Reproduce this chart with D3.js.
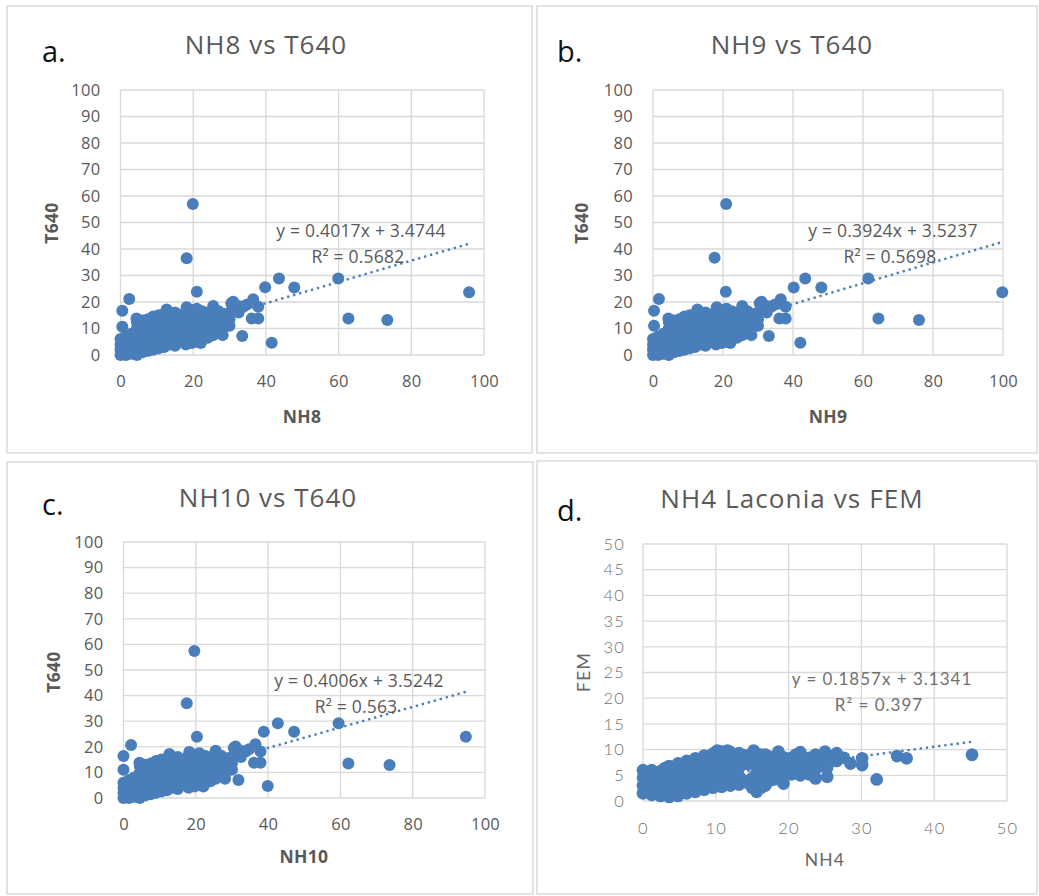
<!DOCTYPE html>
<html>
<head>
<meta charset="utf-8">
<script src="https://cdn.jsdelivr.net/npm/d3@7"></script>
<style>
  body { margin: 0; background: #fff; }
  svg { display: block; }
</style>
</head>
<body>
<svg id="fig" width="1039" height="896"></svg>
<script>
"use strict";

// dense T640 cluster (b and c show the same cloud)
var t640Core = [
  [0,0],[0,2],[0,4],[0,6],
  [0.8,1],[0.8,3.5],[0.8,5.5],
  [1.5,0],[1.5,2.5],[1.5,5],[1.5,7],
  [3,0.5],[3,3],[3,5.5],[3,8],
  [4.5,0],[4.5,2.5],[4.5,5],[4.5,7.5],[4.5,10],[4.5,12.5],[4.4,13.8],
  [6,1],[6,3.5],[6,6],[6,8.5],[6,11],[6,13],
  [7.5,1.5],[7.5,4],[7.5,6.5],[7.5,9],[7.5,11.5],[7.5,13.5],
  [9,2],[9,4.5],[9,7],[9,9.5],[9,12],[9,14.5],
  [10.5,2.5],[10.5,5],[10.5,7.5],[10.5,10],[10.5,12.5],[10.5,15],
  [12,3],[12,5.5],[12,8],[12,10.5],[12,13],[12,15.5],[12.7,17.2],
  [13.5,4],[13.5,6.5],[13.5,9],[13.5,11.5],[13.5,14],[13.5,16],
  [15,3.5],[15,6],[15,8.5],[15,11],[15,13.5],[15,16],
  [16.5,5],[16.5,7.5],[16.5,10],[16.5,12.5],[16.5,15],
  [18,4],[18,6.5],[18,9],[18,11.5],[18,14],[18,16.5],[18.2,18],
  [19.6,4.5],[19.5,7],[19.5,9.5],[19.5,12],[19.5,14.5],[19.5,17],
  [21,5],[21,7.5],[21,10],[21,12.5],[21,15],[21,17.5],
  [22.1,4.5],[22.5,7],[22.5,9.5],[22.5,12],[22.5,14.5],[22.5,16.5],
  [24,6.5],[24,9],[24,11.5],[24,14],[24,16],
  [25.5,7.5],[25.5,10],[25.5,12.5],[25.5,15],[25.5,18.5],
  [27,9],[27,11.5],[27,14],[27,16.5],
  [28.1,7.5],[28.5,10.5],[28.5,13],[28.5,15.5],
  [30,11],[30,13.5],[30,16],[30.5,19.5],
  [31,20.1],[32.5,16],[32.5,18.5],[33.8,18.2],
  [34.7,19],[36.5,21],[36.1,13.8],[37.9,13.8],[37.9,18.2]
];

// scattered points of each panel
var nh8Outliers = [
  [0.5,10.7],[0.5,16.7],[2.4,21.1],[18.2,36.5],[19.9,57],[21,23.9],
  [33.5,7.2],[39.8,25.6],[43.6,28.9],[47.8,25.5],[41.6,4.6],
  [59.9,28.9],[62.7,13.8],[73.4,13.2],[95.9,23.7]
];
var nh9Outliers = [
  [0.3,11],[0.3,16.7],[1.7,21.1],[17.6,36.7],[20.9,57],[20.8,23.9],
  [33.1,7.2],[40.2,25.5],[43.5,28.9],[48.1,25.5],[42.1,4.6],
  [61.5,28.9],[64.4,13.8],[76,13.2],[99.8,23.7]
];
var nh10Outliers = [
  [0,11],[0,16.4],[2.1,20.7],[17.5,37],[19.6,57.4],[20.3,23.9],
  [31.8,7],[38.8,25.9],[42.7,29.2],[47.2,25.9],[39.9,4.7],
  [59.5,29.2],[62.2,13.5],[73.6,12.9],[94.7,23.9]
];

// NH4 Laconia vs FEM
var femPoints = [
  [0,1.5],[0,3],[0,4.5],[0,6],[0.6,2.2],[0.6,3.8],[0.6,5.3],
  [1.2,1.2],[1.2,2.8],[1.2,4.4],[1.2,6],[1.8,2],[1.8,3.6],[1.8,5.2],
  [2.4,1],[2.4,2.6],[2.4,4.2],[2.4,5.8],[3,1.8],[3,3.4],[3,5],[3,6.4],
  [3.6,0.8],[3.6,2.4],[3.6,4],[3.6,5.6],[3.6,6.8],[4.2,1.8],[4.2,3.4],[4.2,5],[4.2,6.5],
  [4.8,1],[4.8,2.6],[4.8,4.2],[4.8,5.8],[4.8,7.3],[5.4,1.8],[5.4,3.4],[5.4,5],[5.4,6.6],
  [6,1.5],[6,3],[6,4.6],[6,6.2],[6,7.8],[6.6,2.3],[6.6,3.9],[6.6,5.5],[6.6,7.1],
  [7.2,1.8],[7.2,3.4],[7.2,5],[7.2,6.6],[7.2,8.3],[7.8,2.6],[7.8,4.2],[7.8,5.8],[7.8,7.6],
  [8.4,2.2],[8.4,3.8],[8.4,5.4],[8.4,7],[8.4,8.8],[9,3],[9,4.6],[9,6.4],[9,8.1],
  [9.6,2.6],[9.6,4.2],[9.6,5.8],[9.6,7.4],[9.6,9.2],[10.2,3.4],[10.2,5],[10.2,6.8],[10.2,8.5],[10.2,9.8],
  [10.8,2.8],[10.8,4.4],[10.8,6],[10.8,7.6],[10.8,9.6],[11.4,3.6],[11.4,5.3],[11.4,7],[11.4,8.7],[11.6,9.8],
  [12,3],[12,4.6],[12,6.2],[12,7.8],[12,9.5],[12.6,3.8],[12.6,5.6],[12.6,7.2],[12.6,8.8],
  [13.2,3.2],[13.2,4.8],[13.2,6.5],[13.2,8],[13.2,9.3],[13.8,4],[13.8,7.6],[13.8,8.9],
  [14.4,3.5],[14.4,7.2],[14.4,8.8],[15,2.6],[15,4.4],[15,8],
  [15.6,1.8],[15.6,3.5],[15.6,5.5],[15.6,7],[15.6,8.5],[15.2,9.8],[16.2,2.6],[16.2,5.4],[16.2,7.4],[16.2,9],
  [16.8,3],[16.8,4.6],[16.8,6.2],[16.8,7.8],[16.8,9],[17.4,4],[17.4,5.6],[17.4,7.2],[17.4,8.6],
  [18,4.2],[18,5.8],[18,7.4],[18.6,9.6],[18.6,6.6],[18.6,8.2],
  [19.3,3.4],[19.3,5.5],[19.3,7],[19.3,8.5],[19.9,6.2],[19.9,7.8],
  [20.4,5.2],[20.4,6.8],[20.4,8.4],[21,5.8],[21,7.4],[21,9],
  [21.6,5],[21.6,6.6],[21.6,8.2],[21.6,9.5],[22.2,5.6],[22.2,7.4],
  [22.8,5.2],[22.8,6.8],[22.8,8.4],[23.2,7.2],
  [23.7,4.4],[23.7,6.2],[23.7,7.8],[23.7,9],[24.4,6.8],[24.4,8.4],
  [25.3,6.5],[25.3,8.6],[26.6,9.3],[25.3,4.7],[25,9.6],
  [26.6,7.8],[27.6,8.4],[28.5,7.3],[30.1,7],[30.1,8.3],
  [32.1,4.2],[34.9,8.75],[36.2,8.3],[45.2,9]
];

var t640Ticks = [0, 10, 20, 30, 40, 50, 60, 70, 80, 90, 100];
var nhTicks = [0, 20, 40, 60, 80, 100];
var femTicks = [0, 5, 10, 15, 20, 25, 30, 35, 40, 45, 50];
var nh4Ticks = [0, 10, 20, 30, 40, 50];

var slopes = [0.4017, 0.3924, 0.4006, 0.1857];
var intercepts = [3.4744, 3.5237, 3.5242, 3.1341];
var rSquared = ["0.5682", "0.5698", "0.563", "0.397"];

var blue = "#4a7ebb";
var grey = "#595959";
var svg = d3.select("#fig");

var panels = [
  { tag: "a.", title: "NH8 vs T640", xName: "NH8", yName: "T640",
    pts: t640Core.concat(nh8Outliers), xTicks: nhTicks, yTicks: t640Ticks,
    box: [7, 6, 525, 447], L: 120.5, R: 484, T: 90, B: 355,
    tagXY: [42, 62], titleXY: [266, 54], xNameXY: [302, 423], yNameXY: [58, 223],
    eqXY: [361, 237], light: false },
  { tag: "b.", title: "NH9 vs T640", xName: "NH9", yName: "T640",
    pts: t640Core.concat(nh9Outliers), xTicks: nhTicks, yTicks: t640Ticks,
    box: [537, 6, 500, 447], L: 653, R: 1003, T: 90, B: 355,
    tagXY: [557, 62], titleXY: [792, 54], xNameXY: [828, 423], yNameXY: [588, 223],
    eqXY: [893, 237], light: false },
  { tag: "c.", title: "NH10 vs T640", xName: "NH10", yName: "T640",
    pts: t640Core.concat(nh10Outliers), xTicks: nhTicks, yTicks: t640Ticks,
    box: [7, 462, 526, 432], L: 123.5, R: 485, T: 542, B: 798,
    tagXY: [42, 515], titleXY: [268, 507], xNameXY: [304, 863], yNameXY: [60, 672],
    eqXY: [359, 687], light: false },
  { tag: "d.", title: "NH4 Laconia vs FEM", xName: "NH4", yName: "FEM",
    pts: femPoints, xTicks: nh4Ticks, yTicks: femTicks,
    box: [537, 461, 500, 433], L: 643, R: 1007, T: 544, B: 801,
    tagXY: [557, 521], titleXY: [792, 508], xNameXY: [825, 866], yNameXY: [590, 672],
    eqXY: [882, 685], light: true }
];

panels.forEach(function(p, i) {
  var font = "'Open Sans', sans-serif";
  var lightFont = "Lato, 'Open Sans', sans-serif";
  var tickColour = p.light ? "#707070" : grey;

  svg.append("rect")
    .attr("x", p.box[0]).attr("y", p.box[1])
    .attr("width", p.box[2]).attr("height", p.box[3])
    .attr("fill", "none").attr("stroke", "#dcdcdc").attr("stroke-width", 1.6);

  var x = d3.scaleLinear().domain(d3.extent(p.xTicks)).range([p.L, p.R]);
  var y = d3.scaleLinear().domain(d3.extent(p.yTicks)).range([p.B, p.T]);

  var g = svg.append("g");

  // gridlines
  g.selectAll(".hg").data(p.yTicks).enter().append("line")
    .attr("x1", p.L).attr("x2", p.R)
    .attr("y1", function(d) { return y(d); }).attr("y2", function(d) { return y(d); })
    .attr("stroke", "#d9d9d9").attr("stroke-width", 1.3);
  g.selectAll(".vg").data(p.xTicks).enter().append("line")
    .attr("y1", p.T).attr("y2", p.B)
    .attr("x1", function(d) { return x(d); }).attr("x2", function(d) { return x(d); })
    .attr("stroke", "#d9d9d9").attr("stroke-width", 1.3);

  // tick labels
  var yAxis = d3.axisLeft(y).tickValues(p.yTicks).tickSize(0).tickPadding(p.light ? 18 : 20);
  var xAxis = d3.axisBottom(x).tickValues(p.xTicks).tickSize(0).tickPadding(p.light ? 21 : 20);
  var ya = g.append("g").attr("transform", "translate(" + p.L + ",0)").call(yAxis);
  var xa = g.append("g").attr("transform", "translate(0," + p.B + ")").call(xAxis);
  [ya, xa].forEach(function(a) {
    a.select(".domain").remove();
    a.selectAll("text")
      .attr("fill", tickColour)
      .style("font-family", p.light ? lightFont : font)
      .style("font-weight", p.light ? 300 : 400)
      .style("font-size", p.light ? "16.5px" : "16.5px")
      .style("letter-spacing", p.light ? "1.2px" : "0.3px");
  });

  // trendline (under the markers)
  var xs = p.pts.map(function(d) { return d[0]; });
  var x0 = d3.min(xs), x1 = d3.max(xs);
  g.append("line")
    .attr("x1", x(x0)).attr("y1", y(slopes[i] * x0 + intercepts[i]))
    .attr("x2", x(x1)).attr("y2", y(slopes[i] * x1 + intercepts[i]))
    .attr("stroke", blue).attr("stroke-width", 2.4)
    .attr("stroke-dasharray", "2.4,3.8");

  // markers
  g.selectAll(".dot").data(p.pts).enter().append("circle")
    .attr("cx", function(d) { return x(d[0]); })
    .attr("cy", function(d) { return y(d[1]); })
    .attr("r", p.light ? 6.4 : 6)
    .attr("fill", blue);

  // equation
  var eq = g.append("text")
    .attr("text-anchor", "middle")
    .attr("fill", p.light ? "#707070" : grey)
    .style("font-family", p.light ? lightFont : font)
    .style("font-weight", 400)
    .style("font-size", p.light ? "17px" : "17.5px")
    .style("letter-spacing", p.light ? "1px" : "0.2px");
  eq.append("tspan").attr("x", p.eqXY[0]).attr("y", p.eqXY[1])
    .text("y = " + slopes[i] + "x + " + intercepts[i]);
  eq.append("tspan").attr("x", p.eqXY[0] - 3).attr("y", p.eqXY[1] + 25.5)
    .text("R² = " + rSquared[i]);

  // titles
  svg.append("text")
    .attr("x", p.titleXY[0]).attr("y", p.titleXY[1])
    .attr("text-anchor", "middle")
    .attr("fill", grey)
    .style("font-family", font)
    .style("font-size", "26px")
    .style("letter-spacing", p.light ? "1.1px" : "1px")
    .text(p.title);

  svg.append("text")
    .attr("x", p.tagXY[0]).attr("y", p.tagXY[1])
    .attr("fill", "#111")
    .style("font-family", font)
    .style("font-size", "29px")
    .text(p.tag);

  svg.append("text")
    .attr("x", p.xNameXY[0]).attr("y", p.xNameXY[1])
    .attr("text-anchor", "middle")
    .attr("fill", p.light ? "#666" : grey)
    .style("font-family", p.light ? lightFont : font)
    .style("font-weight", p.light ? 400 : 700)
    .style("font-size", "17.5px")
    .style("letter-spacing", p.light ? "1.2px" : "0.3px")
    .text(p.xName);

  svg.append("text")
    .attr("transform", "translate(" + p.yNameXY[0] + "," + p.yNameXY[1] + ") rotate(-90)")
    .attr("text-anchor", "middle")
    .attr("fill", p.light ? "#666" : grey)
    .style("font-family", p.light ? lightFont : font)
    .style("font-weight", p.light ? 400 : 700)
    .style("font-size", "17.5px")
    .style("letter-spacing", p.light ? "1.2px" : "0.3px")
    .text(p.yName);
});
</script>
</body>
</html>
